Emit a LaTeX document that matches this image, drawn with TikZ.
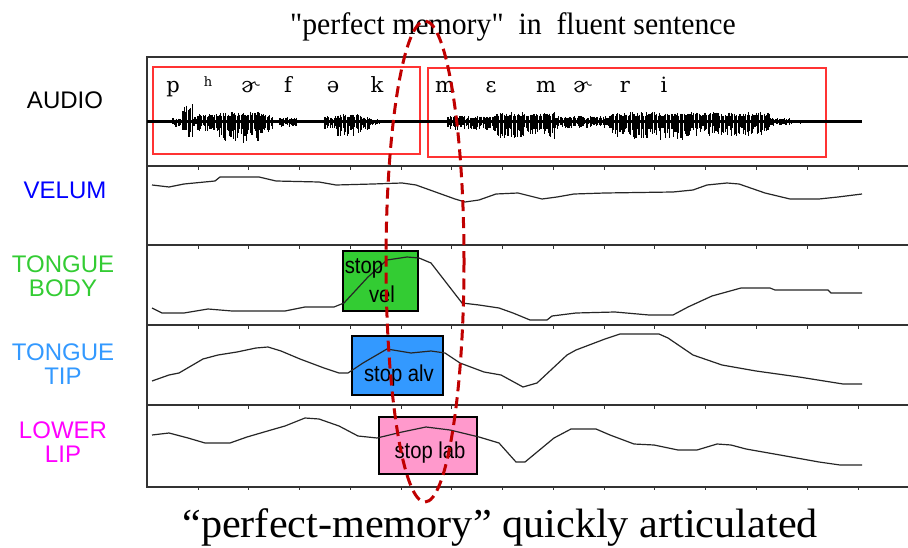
\documentclass[tikz,border=0pt]{standalone}
\usepackage{fontspec}
\setmainfont{Liberation Serif}
\setsansfont{Liberation Sans}
\newfontfamily\ipafont{DejaVu Serif}
\newfontfamily\titlefont{Liberation Serif}[Ligatures=TeXOff]
\usetikzlibrary{calc}
\definecolor{tbgreen}{HTML}{33CC33}
\definecolor{ttblue}{HTML}{3399FF}
\definecolor{lpink}{HTML}{FF99CC}
\definecolor{lmag}{HTML}{FF00FF}
\definecolor{velblue}{HTML}{0000FF}
\definecolor{boxred}{HTML}{FF3333}
\definecolor{ellred}{HTML}{C00000}
\tikzset{
  rowlabel/.style={font=\sffamily\fontsize{24}{27}\selectfont, align=center, inner sep=0pt},
  phon/.style={font=\ipafont\fontsize{21}{22}\selectfont, anchor=base, inner sep=0pt},
  trace/.style={line width=1.2pt, black!85},
  gesture/.style={draw=black, line width=2.6pt},
  gesttext/.style={font=\sffamily\fontsize{23}{24}\selectfont, inner sep=0pt, xscale=0.88},
  segbox/.style={draw=boxred, line width=1.3pt},
  frameline/.style={line width=1.3pt, black!80},
  tick/.style={line width=1pt, black!80},
  wave/.style={line width=1.1pt, black},
}
\begin{document}
\begin{tikzpicture}[x=1pt,y=-1pt]
\useasboundingbox (0,0) rectangle (908,548);
\fill[white] (0,0) rectangle (908,548);

% title
\node[font=\titlefont\fontsize{31}{33}\selectfont, anchor=base, xscale=0.96, inner sep=0pt] (title) at (513,35) {"perfect memory"\ \ in\ \ fluent sentence};

% frame
\draw[frameline] (908,57) -- (147,57) -- (147,487) -- (908,487);
\foreach \yy in {166,245,325,405} {\draw[frameline] (147,\yy) -- (908,\yy);}
\foreach \yy in {166,245,325,405,486} {
  \foreach \k in {0,...,13} {\draw[tick] ({198+50.77*\k},\yy) -- ({198+50.77*\k},{\yy+4});}
}

% row labels
\node[rowlabel] (laudio) at (65,100) {AUDIO};
\node[rowlabel, text=velblue] (lvelum) at (65,190) {VELUM};
\node[rowlabel, text=tbgreen] (ltb) at (63,276) {TONGUE\\[-3pt]BODY};
\node[rowlabel, text=ttblue] (ltt) at (63,364) {TONGUE\\[-3pt]TIP};
\node[rowlabel, text=lmag] (llip) at (63,442) {LOWER\\[-3pt]LIP};

% audio segment boxes
\draw[segbox] (153,67) rectangle (420,154);
\draw[segbox] (428,68) rectangle (826,157);

% phonetic letters
\node[phon] (p1) at (173,93) {p};
\node[phon, font=\ipafont\fontsize{13}{14}\selectfont] (p2) at (208,87) {h};
\node[phon] (p3) at (250,93) {ɚ};
\node[phon] (p4) at (288,93) {f};
\node[phon] (p5) at (333,93) {ə};
\node[phon] (p6) at (377,93) {k};
\node[phon] (q1) at (445,93) {m};
\node[phon] (q2) at (491,93) {ɛ};
\node[phon] (q3) at (546,93) {m};
\node[phon] (q4) at (582,93) {ɚ};
\node[phon] (q5) at (625,93) {r};
\node[phon] (q6) at (664,93) {i};

% audio baseline
\draw[line width=3pt] (147,122) -- (862,122);

% waveform
\pgfmathsetseed{7}
\foreach \xa/\xb/\up/\dn in {
  173/183/4/5, 183/193/18/18, 193/198/5/5, 198/218/8/9, 218/232/10/19, 232/262/11/21, 262/273/8/12,
  280/297/5/5, 325/338/6/7, 338/362/8/14, 362/370/5/9, 370/380/3/3,
  448/495/6/8, 495/555/10/17, 555/610/6/7, 610/690/10/18, 690/770/10/14, 770/790/4/4, 790/802/2/2} {
  \pgfmathsetmacro{\xs}{\xa+1.3}
  \foreach \x in {\xa,\xs,...,\xb} {
    \pgfmathsetmacro{\u}{\up*(0.55+0.45*rnd)}
    \pgfmathsetmacro{\d}{\dn*(0.3+0.7*rnd)}
    \draw[wave] (\x,{122-\u}) -- (\x,{122+\d});
  }
}

% velum trace
\draw[trace] (152,185) -- (169,187) -- (184,184) -- (215,181) -- (220,177) -- (259,177) -- (276,181) -- (319,182) -- (336,185) -- (373,184) -- (402,183) -- (416,185) -- (455,199) -- (465,202) -- (479,200) -- (496,194) -- (518,193) -- (542,199) -- (557,197) -- (574,194) -- (605,193) -- (673,192) -- (693,190) -- (707,185) -- (727,183) -- (739,184) -- (765,193) -- (790,199) -- (819,199) -- (838,197) -- (862,194);

% tongue body
\draw[gesture, fill=tbgreen] (343,251) rectangle (418,311);
\draw[trace] (152,308) -- (162,313) -- (184,313) -- (208,309) -- (232,311) -- (285,311) -- (305,307) -- (334,307) -- (344,303) -- (368,277) -- (387,260) -- (407,257) -- (419,258) -- (431,263) -- (462,303) -- (479,305) -- (499,308) -- (513,313) -- (530,320) -- (547,320) -- (552,316) -- (576,313) -- (615,312) -- (649,315) -- (673,315) -- (688,307) -- (712,296) -- (741,288) -- (770,288) -- (775,290) -- (828,290) -- (831,293) -- (862,293);
\node[gesttext] (tvel1) at (364,268) {stop};
\node[gesttext] (tvel2) at (382,294) {vel};

% tongue tip
\draw[gesture, fill=ttblue] (352,336) rectangle (443,395);
\draw[trace] (152,381) -- (169,375) -- (179,373) -- (203,359) -- (218,355) -- (237,352) -- (256,348) -- (268,347) -- (281,351) -- (300,359) -- (324,368) -- (339,373) -- (348,373) -- (363,363) -- (387,349) -- (411,353) -- (431,351) -- (445,353) -- (460,363) -- (484,372) -- (501,375) -- (523,387) -- (537,383) -- (567,355) -- (576,350) -- (605,339) -- (620,334) -- (659,334) -- (668,338) -- (693,355) -- (722,365) -- (756,371) -- (799,377) -- (843,384) -- (862,384);
\node[gesttext] (talv) at (399,376) {stop alv};

% lower lip
\draw[gesture, fill=lpink] (379,417) rectangle (477,474);
\draw[trace] (152,435) -- (169,433) -- (188,438) -- (205,443) -- (230,443) -- (247,437) -- (271,430) -- (285,426) -- (305,418) -- (319,419) -- (339,426) -- (358,436) -- (377,438) -- (402,432) -- (426,427) -- (450,430) -- (479,437) -- (499,443) -- (516,462) -- (525,462) -- (554,438) -- (571,429) -- (596,429) -- (610,435) -- (634,444) -- (654,445) -- (678,450) -- (697,450) -- (717,444) -- (731,445) -- (746,449) -- (780,455) -- (819,462) -- (840,465) -- (862,465);
\node[gesttext] (tlab) at (430,453) {stop lab};

% dashed ellipse
\draw[ellred, line width=3pt, dash pattern=on 11pt off 6pt] (425,261.5) ellipse [x radius=39, y radius=240.5];

% caption
\node[font=\fontsize{41}{43}\selectfont, anchor=base, inner sep=0pt, xscale=1.03] (caption) at (500,537) {“perfect-memory” quickly articulated};
\end{tikzpicture}
\end{document}
